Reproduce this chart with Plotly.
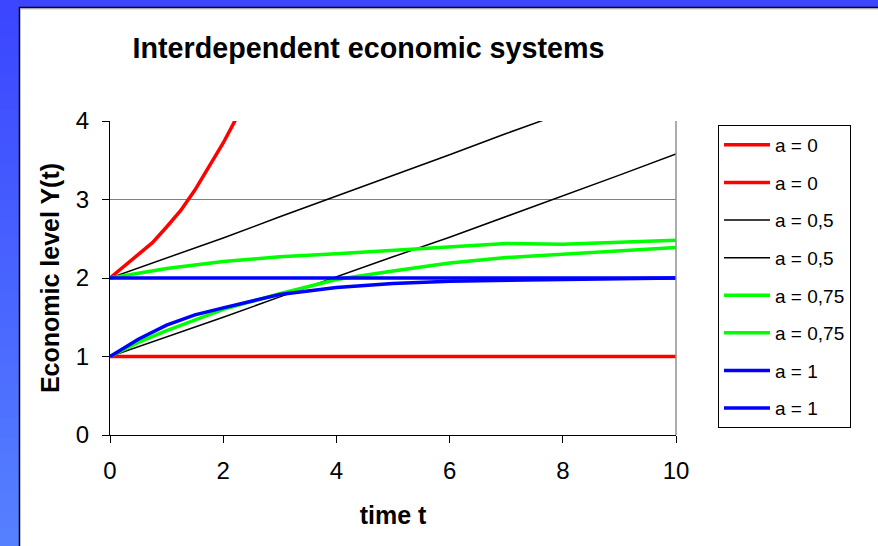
import plotly.graph_objects as go

# Time grids
t_fine = [0, 0.25, 0.5, 0.75, 1.0, 1.25, 1.5, 1.75, 2.0, 2.25, 2.5]
t_unit = [0, 1, 2, 3, 4, 5, 6, 7, 8, 9, 10]
t_half = [0, 0.5, 1, 1.5, 2, 3, 4, 5, 6, 7, 8, 9, 10]

# a = 0
y_a0_high = [2.0, 2.15, 2.29, 2.45, 2.65, 2.86, 3.12, 3.42, 3.72, 4.06, 4.45]
y_a0_low = [1, 1, 1, 1, 1, 1, 1, 1, 1, 1, 1]

# a = 0,5
y_a05_high = [2.0, 2.25, 2.51, 2.78, 3.04, 3.31, 3.57, 3.84, 4.1, 4.36, 4.62]
y_a05_low = [1.0, 1.25, 1.5, 1.76, 2.01, 2.27, 2.52, 2.78, 3.05, 3.31, 3.58]

# a = 0,75
y_a075_high = [2.0, 2.12, 2.21, 2.27, 2.31, 2.35, 2.39, 2.44, 2.43, 2.46, 2.48]
y_a075_low = [1.0, 1.18, 1.33, 1.47, 1.6, 1.8, 1.98, 2.09, 2.19, 2.26, 2.3, 2.35, 2.39]

# a = 1
y_a1_high = [2, 2, 2, 2, 2, 2, 2, 2, 2, 2, 2]
y_a1_low = [1.0, 1.22, 1.4, 1.53, 1.62, 1.79, 1.88, 1.93, 1.96, 1.97, 1.99, 1.99, 2.0]

x_ticks = [0, 2, 4, 6, 8, 10]
y_ticks = [0, 1, 2, 3, 4]

FONT = "Liberation Sans, Arial, sans-serif"

series = [
    ("a = 0", t_fine, y_a0_high, "#FF0000", 3.5),
    ("a = 0", t_unit, y_a0_low, "#FF0000", 3.5),
    ("a = 0,5", t_unit, y_a05_high, "#000000", 1.5),
    ("a = 0,5", t_unit, y_a05_low, "#000000", 1.5),
    ("a = 0,75", t_unit, y_a075_high, "#00FF00", 3.5),
    ("a = 0,75", t_half, y_a075_low, "#00FF00", 3.5),
    ("a = 1", t_unit, y_a1_high, "#0000FF", 3.5),
    ("a = 1", t_half, y_a1_low, "#0000FF", 3.5),
]

fig = go.Figure()
for i, (name, xs, ys, color, width) in enumerate(series):
    fig.add_trace(go.Scatter(
        x=xs, y=ys, mode="lines", name=name, legendgroup=f"g{i}",
        line=dict(color=color, width=width),
    ))

# Page frame: slide-style blue border on the top and left edges
W, H = 878, 546
L, R, T, B = 110, 202, 121, 111
pw, ph = W - L - R, H - T - B


def px_x(px):
    return (px - L) / pw


def px_y(py):
    return (H - B - py) / ph


shapes = []
n = 30
for k in range(n):
    f = k / (n - 1)
    r = int(60 + f * (85 - 60))
    g = int(70 + f * (128 - 70))
    y0 = k * H / n
    y1 = (k + 1) * H / n + 1
    shapes.append(dict(type="rect", xref="paper", yref="paper",
                       x0=px_x(0), x1=px_x(19), y0=px_y(min(y1, H)), y1=px_y(y0),
                       fillcolor=f"rgb({r},{g},255)", line=dict(width=0), layer="below"))
shapes.append(dict(type="rect", xref="paper", yref="paper",
                   x0=px_x(0), x1=px_x(W), y0=px_y(7), y1=px_y(0),
                   fillcolor="rgb(60,70,255)", line=dict(width=0), layer="below"))
shapes.append(dict(type="line", xref="paper", yref="paper",
                   x0=px_x(19.5), x1=px_x(19.5), y0=px_y(H), y1=px_y(7),
                   line=dict(color="black", width=1.5)))
shapes.append(dict(type="line", xref="paper", yref="paper",
                   x0=px_x(19), x1=px_x(W), y0=px_y(7.5), y1=px_y(7.5),
                   line=dict(color="black", width=1.5)))
shapes.append(dict(type="line", xref="paper", yref="paper",
                   x0=px_x(20), x1=px_x(W), y0=px_y(8.8), y1=px_y(8.8),
                   line=dict(color="#A0A0A0", width=1)))
# right edge of the plot area
shapes.append(dict(type="line", xref="paper", yref="paper",
                   x0=1, x1=1, y0=0, y1=1,
                   line=dict(color="#909090", width=1.5)))

fig.update_layout(
    width=W, height=H,
    margin=dict(l=L, r=R, t=T, b=B),
    paper_bgcolor="white",
    plot_bgcolor="white",
    font=dict(family=FONT, color="black"),
    title=dict(text="<b>Interdependent economic systems</b>",
               x=368.5 / W, xref="container", xanchor="center",
               y=1 - 48 / H, yref="container", yanchor="middle",
               font=dict(size=28.7, family=FONT, color="black")),
    shapes=shapes,
    showlegend=True,
    legend=dict(
        x=px_x(718), y=px_y(125), xanchor="left", yanchor="top",
        xref="paper", yref="paper",
        bgcolor="white", bordercolor="black", borderwidth=1,
        font=dict(size=19, family=FONT, color="black"),
        traceorder="grouped", tracegroupgap=9.9,
        maxheight=H, itemwidth=46,
    ),
)

fig.update_xaxes(
    range=[0, 10], tickvals=x_ticks, ticktext=[str(v) for v in x_ticks],
    showgrid=False, zeroline=False,
    showline=True, linecolor="black", linewidth=1.2,
    ticks="outside", ticklen=7, tickcolor="black", tickwidth=1,
    tickfont=dict(size=24, family=FONT, color="black"),
    ticklabelstandoff=7,
    title=dict(text="<b>time t</b>", font=dict(size=25, family=FONT, color="black"), standoff=23),
)
fig.update_yaxes(
    range=[0, 4], tickvals=y_ticks, ticktext=[str(v) for v in y_ticks],
    showgrid=True, gridcolor="#808080", gridwidth=1.2,
    zeroline=False,
    showline=True, linecolor="black", linewidth=1.2,
    ticks="outside", ticklen=7, tickcolor="black", tickwidth=1,
    tickfont=dict(size=24, family=FONT, color="black"),
    ticklabelstandoff=8,
    title=dict(text="<b>Economic level Y(t)</b>", font=dict(size=25, family=FONT, color="black"), standoff=8),
)

fig.write_html("out.html")
